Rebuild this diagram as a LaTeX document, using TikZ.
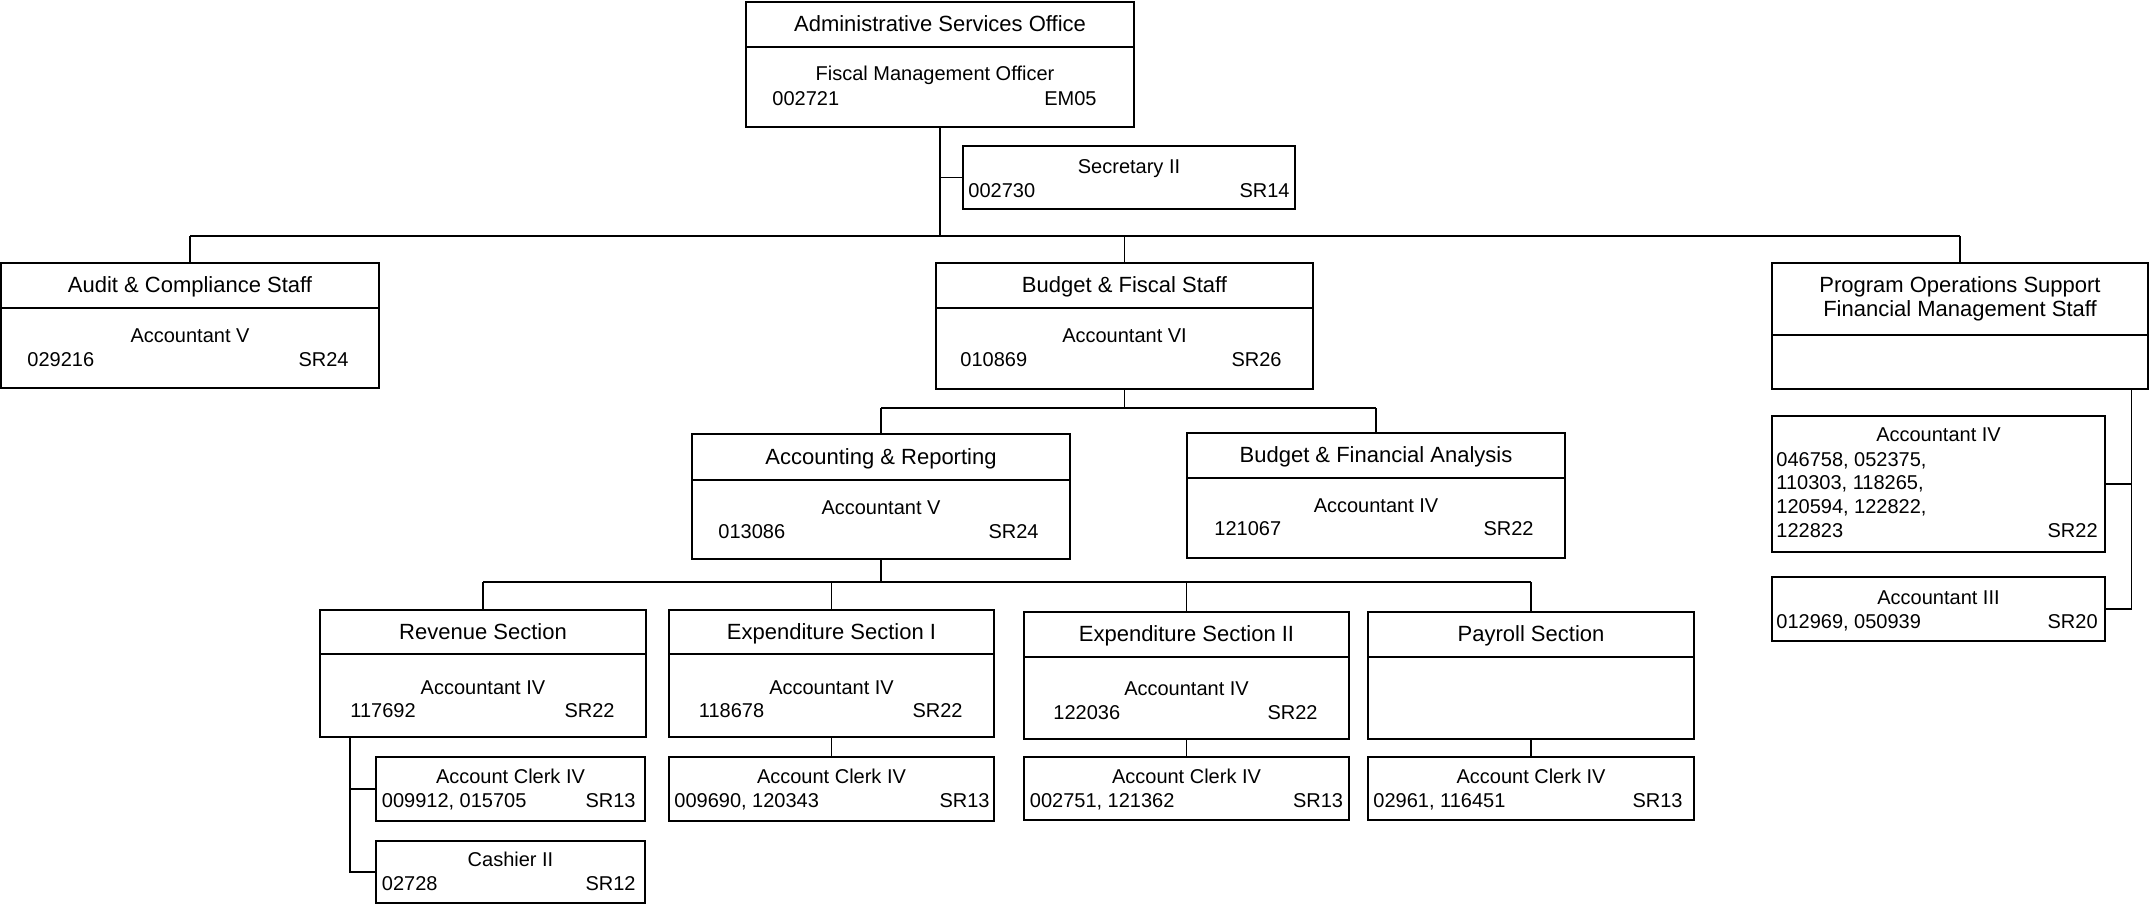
\documentclass[tikz,border=0pt]{standalone}
\usepackage{fontspec}
\setmainfont{Liberation Sans}
\tikzset{
 cell/.style={draw, line width=1pt, rectangle, inner sep=0pt, text height=7.2pt, text depth=0pt, font=\fontsize{11}{12}\selectfont},
 conn/.style={draw, line width=0.8pt},
 tx/.style={inner sep=0pt, font=\fontsize{10}{12}\selectfont},
 ttl/.style={inner sep=0pt, font=\fontsize{11}{12}\selectfont},
}
\newcommand\cellbox[6]{%
 \pgfmathsetmacro\cbw{(#4-#2)*0.5}%
 \pgfmathsetmacro\cbh{(#5-#3)*0.5}%
 \node[cell, minimum width=\cbw pt, minimum height=\cbh pt] (#1) at ({(#2+#4)/2},{(#3+#5)/2}) {#6};}
\begin{document}
\begin{tikzpicture}[x=0.5pt,y=-0.5pt]
\fill[white] (0,0) rectangle (2150,907);
\useasboundingbox (0,0) rectangle (2150,907);
% ASO
\cellbox{asot}{746}{2}{1134}{47}{Administrative Services Office}
\cellbox{asob}{746}{47}{1134}{127}{}
\node[tx,anchor=base] (aso1) at (935,80) {Fiscal Management Officer};
\node[tx,anchor=base west] (aso2) at (772,105) {002721};
\node[tx,anchor=base east] (aso3) at (1097,105) {EM05};
% Secretary
\cellbox{sec}{963}{146}{1295}{209}{}
\node[tx,anchor=base] (sec1) at (1129,173) {Secretary II};
\node[tx,anchor=base west] (sec2) at (968,197) {002730};
\node[tx,anchor=base east] (sec3) at (1290,197) {SR14};
% Audit
\cellbox{audt}{1}{263}{379}{308}{Audit \& Compliance Staff}
\cellbox{audb}{1}{308}{379}{388}{}
\node[tx,anchor=base] (aud1) at (190,342) {Accountant V};
\node[tx,anchor=base west] (aud2) at (27,366) {029216};
\node[tx,anchor=base east] (aud3) at (349,366) {SR24};
% Budget & Fiscal
\cellbox{bft}{936}{263}{1313}{308}{Budget \& Fiscal Staff}
\cellbox{bfb}{936}{308}{1313}{389}{}
\node[tx,anchor=base] (bf1) at (1124.5,342) {Accountant VI};
\node[tx,anchor=base west] (bf2) at (960,366) {010869};
\node[tx,anchor=base east] (bf3) at (1282,366) {SR26};
% Program Operations
\cellbox{pot}{1772}{263}{2148}{335}{}
\cellbox{pob}{1772}{335}{2148}{389}{}
\node[ttl,anchor=base] (po1) at (1960,292.5) {Program Operations Support};
\node[ttl,anchor=base] (po2) at (1960,316.5) {Financial Management Staff};
\cellbox{a4}{1772}{416}{2105}{552}{}
\node[tx,anchor=base] (a41) at (1938.5,441.5) {Accountant IV};
\node[tx,anchor=base west] (a42) at (1776,466) {046758, 052375,};
\node[tx,anchor=base west] (a43) at (1776,489.5) {110303, 118265,};
\node[tx,anchor=base west] (a44) at (1776,513) {120594, 122822,};
\node[tx,anchor=base west] (a45) at (1776,537) {122823};
\node[tx,anchor=base east] (a46) at (2098,537) {SR22};
\cellbox{a3}{1772}{577}{2105}{641}{}
\node[tx,anchor=base] (a31) at (1938.5,604) {Accountant III};
\node[tx,anchor=base west] (a32) at (1776,628) {012969, 050939};
\node[tx,anchor=base east] (a33) at (2098,628) {SR20};
% Accounting & Reporting
\cellbox{art}{692}{434}{1070}{480}{Accounting \& Reporting}
\cellbox{arb}{692}{480}{1070}{559}{}
\node[tx,anchor=base] (ar1) at (881,514) {Accountant V};
\node[tx,anchor=base west] (ar2) at (718,538) {013086};
\node[tx,anchor=base east] (ar3) at (1039,538) {SR24};
% Budget & Financial Analysis
\cellbox{bfat}{1187}{433}{1565}{478}{Budget \& Financial Analysis}
\cellbox{bfab}{1187}{478}{1565}{558}{}
\node[tx,anchor=base] (bfa1) at (1376,512) {Accountant IV};
\node[tx,anchor=base west] (bfa2) at (1214,535.5) {121067};
\node[tx,anchor=base east] (bfa3) at (1534,535.5) {SR22};
% Revenue
\cellbox{revt}{320}{610}{646}{654}{Revenue Section}
\cellbox{revb}{320}{654}{646}{737}{}
\node[tx,anchor=base] (rev1) at (483,694) {Accountant IV};
\node[tx,anchor=base west] (rev2) at (350,717) {117692};
\node[tx,anchor=base east] (rev3) at (615,717) {SR22};
% Expenditure I
\cellbox{e1t}{669}{610}{994}{654}{Expenditure Section I}
\cellbox{e1b}{669}{654}{994}{737}{}
\node[tx,anchor=base] (e11) at (831.5,694) {Accountant IV};
\node[tx,anchor=base west] (e12) at (698.5,717) {118678};
\node[tx,anchor=base east] (e13) at (963,717) {SR22};
% Expenditure II
\cellbox{e2t}{1024}{612}{1349}{657}{Expenditure Section II}
\cellbox{e2b}{1024}{657}{1349}{739}{}
\node[tx,anchor=base] (e21) at (1186.5,695) {Accountant IV};
\node[tx,anchor=base west] (e22) at (1053,719) {122036};
\node[tx,anchor=base east] (e23) at (1318,719) {SR22};
% Payroll
\cellbox{payt}{1368}{612}{1694}{657}{Payroll Section}
\cellbox{payb}{1368}{657}{1694}{739}{}
% Level 4
\cellbox{rc}{376}{757}{645}{821}{}
\node[tx,anchor=base] (rc1) at (510.5,783) {Account Clerk IV};
\node[tx,anchor=base west] (rc2) at (381.5,807) {009912, 015705};
\node[tx,anchor=base east] (rc3) at (636,807) {SR13};
\cellbox{cs}{376}{841}{645}{903}{}
\node[tx,anchor=base] (cs1) at (510.5,866) {Cashier II};
\node[tx,anchor=base west] (cs2) at (381.5,890) {02728};
\node[tx,anchor=base east] (cs3) at (636,890) {SR12};
\cellbox{e1c}{669}{757}{994}{821}{}
\node[tx,anchor=base] (e1c1) at (831.5,783) {Account Clerk IV};
\node[tx,anchor=base west] (e1c2) at (674,807) {009690, 120343};
\node[tx,anchor=base east] (e1c3) at (990,807) {SR13};
\cellbox{e2c}{1024}{757}{1349}{820}{}
\node[tx,anchor=base] (e2c1) at (1186.5,783) {Account Clerk IV};
\node[tx,anchor=base west] (e2c2) at (1029.5,807) {002751, 121362};
\node[tx,anchor=base east] (e2c3) at (1343.5,807) {SR13};
\cellbox{pc}{1368}{757}{1694}{820}{}
\node[tx,anchor=base] (pc1) at (1531,783) {Account Clerk IV};
\node[tx,anchor=base west] (pc2) at (1373,807) {02961, 116451};
\node[tx,anchor=base east] (pc3) at (1683,807) {SR13};
% bus coordinates
\coordinate (bus1) at (0,236);
\coordinate (bus2) at (0,408);
\coordinate (bus3) at (0,582);
\coordinate (rv) at (350,0);
\coordinate (px) at (2131.5,0);
% connectors
\draw[conn] (asob.south) -- (asob.south |- bus1);
\draw[conn] (sec.west) -- (sec.west -| asob.south);
\draw[conn] (audt.north |- bus1) -- (pot.north |- bus1);
\draw[conn] (audt.north) -- (audt.north |- bus1);
\draw[conn] (bft.north) -- (bft.north |- bus1);
\draw[conn] (pot.north) -- (pot.north |- bus1);
\draw[conn] (bfb.south) -- (bfb.south |- bus2);
\draw[conn] (art.north |- bus2) -- (bfat.north |- bus2);
\draw[conn] (art.north) -- (art.north |- bus2);
\draw[conn] (bfat.north) -- (bfat.north |- bus2);
\draw[conn] (arb.south) -- (arb.south |- bus3);
\draw[conn] (revt.north |- bus3) -- (payt.north |- bus3);
\draw[conn] (revt.north) -- (revt.north |- bus3);
\draw[conn] (e1t.north) -- (e1t.north |- bus3);
\draw[conn] (e2t.north) -- (e2t.north |- bus3);
\draw[conn] (payt.north) -- (payt.north |- bus3);
\draw[conn] (revb.south -| rv) |- (cs.west);
\draw[conn] (rv |- rc.west) -- (rc.west);
\draw[conn] (e1b.south) -- (e1c.north);
\draw[conn] (e2b.south) -- (e2c.north);
\draw[conn] (payb.south) -- (pc.north);
\draw[conn] (pob.south -| px) |- (a3.east);
\draw[conn] (px |- a4.east) -- (a4.east);
\end{tikzpicture}
\end{document}
